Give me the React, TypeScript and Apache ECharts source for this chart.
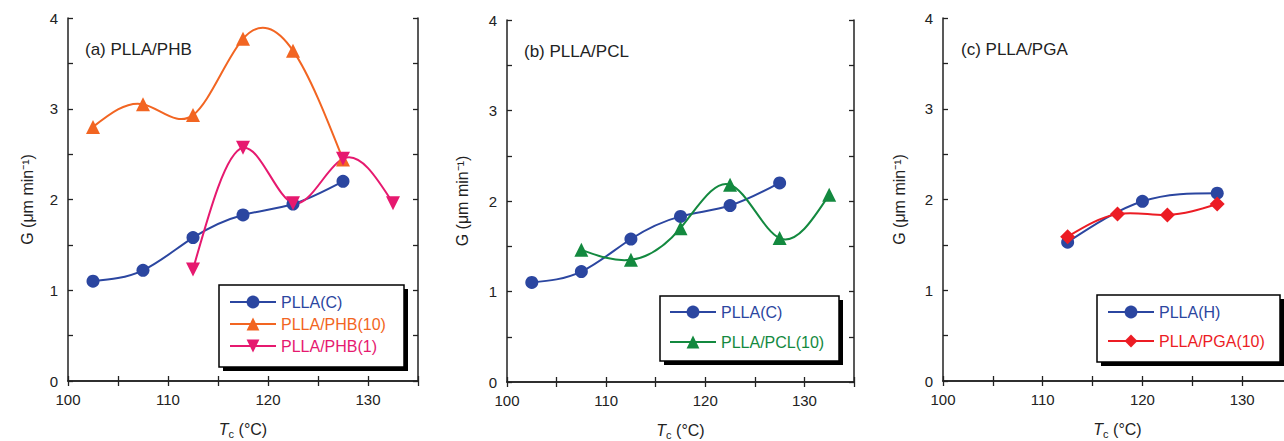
import React, { useEffect, useRef } from "react";
import * as echarts from "echarts";

// ---- data ----
const tcC = [102.5, 107.5, 112.5, 117.5, 122.5, 127.5];
const gPllaC = [1.1, 1.22, 1.58, 1.83, 1.95, 2.2];
const tcPhb10 = [102.5, 107.5, 112.5, 117.5, 122.5, 127.5];
const gPhb10 = [2.8, 3.05, 2.93, 3.77, 3.64, 2.44];
const tcPhb1 = [112.5, 117.5, 122.5, 127.5, 132.5];
const gPhb1 = [1.23, 2.57, 1.96, 2.45, 1.96];
const tcPcl = [107.5, 112.5, 117.5, 122.5, 127.5, 132.5];
const gPcl = [1.46, 1.35, 1.7, 2.18, 1.59, 2.07];
const tcPllaH = [112.5, 120, 127.5];
const gPllaH = [1.53, 1.98, 2.07];
const tcPga = [112.5, 117.5, 122.5, 127.5];
const gPga = [1.59, 1.84, 1.83, 1.95];

const panelTitles = ["(a) PLLA/PHB", "(b) PLLA/PCL", "(c) PLLA/PGA"];
const xTickLabels = [100, 110, 120, 130];
const yTickLabels = [0, 1, 2, 3, 4];

const BLUE = "#2b46a0";
const ORANGE = "#f26522";
const PINK = "#e6196f";
const GREEN = "#13893f";
const RED = "#ec1c24";
const AXIS = "#222";
const FONT = "'Liberation Sans', Arial, sans-serif";
const DOWN_TRI = "path://M0,0 L10,0 L5,8.7 Z";

const zip = (xs: number[], ys: number[]) => xs.map((x, i) => [x, ys[i]]);

// natural cubic spline -> slopes at each knot (data space)
function splineSlopes(xs: number[], ys: number[]): number[] {
  const n = xs.length;
  if (n < 3) {
    const s = (ys[1] - ys[0]) / (xs[1] - xs[0]);
    return [s, s];
  }
  const h: number[] = [];
  for (let i = 0; i < n - 1; i++) h.push(xs[i + 1] - xs[i]);
  const M = new Array(n).fill(0);
  const m = n - 2;
  const a: number[] = [], b: number[] = [], c: number[] = [], d: number[] = [];
  for (let i = 1; i <= m; i++) {
    a.push(h[i - 1]);
    b.push(2 * (h[i - 1] + h[i]));
    c.push(h[i]);
    d.push(6 * ((ys[i + 1] - ys[i]) / h[i] - (ys[i] - ys[i - 1]) / h[i - 1]));
  }
  for (let i = 1; i < m; i++) {
    const w = a[i] / b[i - 1];
    b[i] -= w * c[i - 1];
    d[i] -= w * d[i - 1];
  }
  const sol = new Array(m).fill(0);
  sol[m - 1] = d[m - 1] / b[m - 1];
  for (let i = m - 2; i >= 0; i--) sol[i] = (d[i] - c[i] * sol[i + 1]) / b[i];
  for (let i = 1; i <= m; i++) M[i] = sol[i - 1];
  const slopes: number[] = [];
  for (let i = 0; i < n; i++) {
    if (i < n - 1) {
      slopes.push((ys[i + 1] - ys[i]) / h[i] - (h[i] * (2 * M[i] + M[i + 1])) / 6);
    } else {
      slopes.push((ys[i] - ys[i - 1]) / h[i - 1] + (h[i - 1] * (M[i - 1] + 2 * M[i])) / 6);
    }
  }
  return slopes;
}

const grids = [
  { left: 68, top: 18, width: 350, height: 363 },
  { left: 507, top: 20, width: 347, height: 362 },
  { left: 943, top: 18, width: 349, height: 363 },
];
const yNameGaps = [33, 37, 36];

function axisLine() {
  return { show: true, lineStyle: { color: AXIS, width: 1.5 } };
}
function axisTick() {
  return { show: true, inside: true, length: 5, lineStyle: { color: AXIS, width: 1.3 } };
}

export default function App() {
  const ref = useRef<HTMLDivElement>(null);
  useEffect(() => {
    if (!ref.current) return;
    const chart = echarts.init(ref.current, undefined, { renderer: "svg" });

    const xAxis: any[] = [];
    const yAxis: any[] = [];
    grids.forEach((_, g) => {
      xAxis.push({
        type: "value",
        gridIndex: g,
        position: "bottom",
        min: 100,
        max: 135,
        interval: 5,
        axisLine: axisLine(),
        axisTick: axisTick(),
        splitLine: { show: false },
        axisLabel: {
          fontSize: 15,
          color: AXIS,
          fontFamily: FONT,
          margin: 11,
          formatter: (v: number) => (xTickLabels.includes(v) ? String(v) : ""),
        },
        name: "{t|T}{s|c} (°C)",
        nameLocation: "middle",
        nameGap: 38,
        nameTextStyle: {
          fontSize: 16,
          color: AXIS,
          fontFamily: FONT,
          rich: {
            t: { fontSize: 16, fontStyle: "italic", color: AXIS, fontFamily: FONT },
            s: { fontSize: 11, color: AXIS, fontFamily: FONT, padding: [9, 0, 0, 0] },
          },
        },
      });
      xAxis.push({
        type: "value",
        gridIndex: g,
        position: "top",
        min: 100,
        max: 135,
        interval: 5,
        axisLine: axisLine(),
        axisTick: axisTick(),
        splitLine: { show: false },
        axisLabel: { show: false },
      });
      yAxis.push({
        type: "value",
        gridIndex: g,
        position: "left",
        min: 0,
        max: 4,
        interval: 0.5,
        axisLine: axisLine(),
        axisTick: axisTick(),
        splitLine: { show: false },
        axisLabel: {
          fontSize: 15,
          color: AXIS,
          fontFamily: FONT,
          margin: 10,
          formatter: (v: number) => (yTickLabels.includes(v) ? String(v) : ""),
        },
        name: "G (μm min⁻¹)",
        nameLocation: "middle",
        nameGap: yNameGaps[g],
        nameRotate: 90,
        nameTextStyle: { fontSize: 16, color: AXIS, fontFamily: FONT },
      });
      yAxis.push({
        type: "value",
        gridIndex: g,
        position: "right",
        min: 0,
        max: 4,
        interval: 0.5,
        axisLine: axisLine(),
        axisTick: axisTick(),
        splitLine: { show: false },
        axisLabel: { show: false },
      });
    });

    // smooth curve (natural cubic spline through the data, drawn as bezier segments)
    const curve = (g: number, xs: number[], ys: number[], color: string, z: number) => {
      const slopes = splineSlopes(xs, ys);
      return {
        type: "custom",
        xAxisIndex: 2 * g,
        yAxisIndex: 2 * g,
        data: zip(xs, ys),
        encode: { x: 0, y: 1 },
        z,
        silent: true,
        renderItem: (params: any, api: any) => {
          if (params.dataIndex !== 0) return null;
          const children: any[] = [];
          for (let i = 0; i < xs.length - 1; i++) {
            const h = xs[i + 1] - xs[i];
            const p0 = api.coord([xs[i], ys[i]]);
            const p1 = api.coord([xs[i] + h / 3, ys[i] + (slopes[i] * h) / 3]);
            const p2 = api.coord([xs[i + 1] - h / 3, ys[i + 1] - (slopes[i + 1] * h) / 3]);
            const p3 = api.coord([xs[i + 1], ys[i + 1]]);
            children.push({
              type: "bezierCurve",
              shape: {
                x1: p0[0], y1: p0[1],
                cpx1: p1[0], cpy1: p1[1],
                cpx2: p2[0], cpy2: p2[1],
                x2: p3[0], y2: p3[1],
              },
              style: { stroke: color, lineWidth: 2, fill: null },
            });
          }
          return { type: "group", children };
        },
      };
    };

    const markers = (
      name: string,
      g: number,
      xs: number[],
      ys: number[],
      color: string,
      symbol: string,
      symbolSize: number,
      z: number
    ) => ({
      type: "line",
      name,
      xAxisIndex: 2 * g,
      yAxisIndex: 2 * g,
      data: zip(xs, ys),
      symbol,
      symbolSize,
      showSymbol: true,
      z,
      itemStyle: { color },
      lineStyle: { color, width: 2, opacity: 0 },
    });

    const series = [
      curve(0, tcC, gPllaC, BLUE, 2),
      curve(0, tcPhb10, gPhb10, ORANGE, 2),
      curve(0, tcPhb1, gPhb1, PINK, 2),
      markers("PLLA(C)", 0, tcC, gPllaC, BLUE, "circle", 13, 3),
      markers("PLLA/PHB(10)", 0, tcPhb10, gPhb10, ORANGE, "triangle", 14, 3),
      markers("PLLA/PHB(1)", 0, tcPhb1, gPhb1, PINK, DOWN_TRI, 14, 4),
      curve(1, tcC, gPllaC, BLUE, 2),
      curve(1, tcPcl, gPcl, GREEN, 2),
      markers("PLLA(C)", 1, tcC, gPllaC, BLUE, "circle", 13, 3),
      markers("PLLA/PCL(10)", 1, tcPcl, gPcl, GREEN, "triangle", 14, 3),
      curve(2, tcPllaH, gPllaH, BLUE, 2),
      curve(2, tcPga, gPga, RED, 2),
      markers("PLLA(H)", 2, tcPllaH, gPllaH, BLUE, "circle", 13, 3),
      markers("PLLA/PGA(10)", 2, tcPga, gPga, RED, "diamond", 15, 4),
    ];

    const legendBase = {
      orient: "vertical",
      itemWidth: 46,
      itemHeight: 16,
      padding: 0,
      selectedMode: false,
      textStyle: { fontSize: 16, fontFamily: FONT },
    };
    const item = (name: string, color: string) => ({
      name,
      textStyle: { color },
      lineStyle: { color, width: 2, opacity: 1 },
    });
    const legends = [
      {
        ...legendBase,
        left: 229,
        top: 294,
        itemGap: 6,
        data: [item("PLLA(C)", BLUE), item("PLLA/PHB(10)", ORANGE), item("PLLA/PHB(1)", PINK)],
      },
      {
        ...legendBase,
        left: 669,
        top: 304,
        itemGap: 14,
        data: [item("PLLA(C)", BLUE), item("PLLA/PCL(10)", GREEN)],
      },
      {
        ...legendBase,
        left: 1107,
        top: 304,
        itemGap: 13,
        data: [item("PLLA(H)", BLUE), item("PLLA/PGA(10)", RED)],
      },
    ];

    const boxes = [
      { x: 219, y: 285, w: 185, h: 82 },
      { x: 660, y: 296, w: 179, h: 65 },
      { x: 1097, y: 295, w: 183, h: 67 },
    ];
    const titlePos = [
      { x: 85, y: 49 },
      { x: 524, y: 51 },
      { x: 961, y: 49 },
    ];

    const graphic: any[] = [];
    boxes.forEach((b) => {
      graphic.push({
        type: "rect",
        z: 1,
        shape: { x: b.x + 4, y: b.y + 4, width: b.w, height: b.h },
        style: { fill: "#000" },
      });
      graphic.push({
        type: "rect",
        z: 1,
        shape: { x: b.x, y: b.y, width: b.w, height: b.h },
        style: { fill: "#fff", stroke: "#000", lineWidth: 1.5 },
      });
    });
    panelTitles.forEach((t, i) => {
      graphic.push({
        type: "text",
        z: 5,
        style: {
          text: t,
          x: titlePos[i].x,
          y: titlePos[i].y,
          fontSize: 17,
          fontFamily: FONT,
          fill: AXIS,
          verticalAlign: "middle",
        },
      });
    });

    chart.setOption({
      animation: false,
      backgroundColor: "#fff",
      grid: grids.map((g) => ({ ...g, containLabel: false, outerBoundsMode: "none" })),
      xAxis,
      yAxis,
      series,
      legend: legends,
      graphic,
    });

    return () => chart.dispose();
  }, []);

  return (
    <div
      ref={ref}
      style={{ position: "absolute", left: 0, top: 0, width: 1284, height: 441 }}
    />
  );
}
